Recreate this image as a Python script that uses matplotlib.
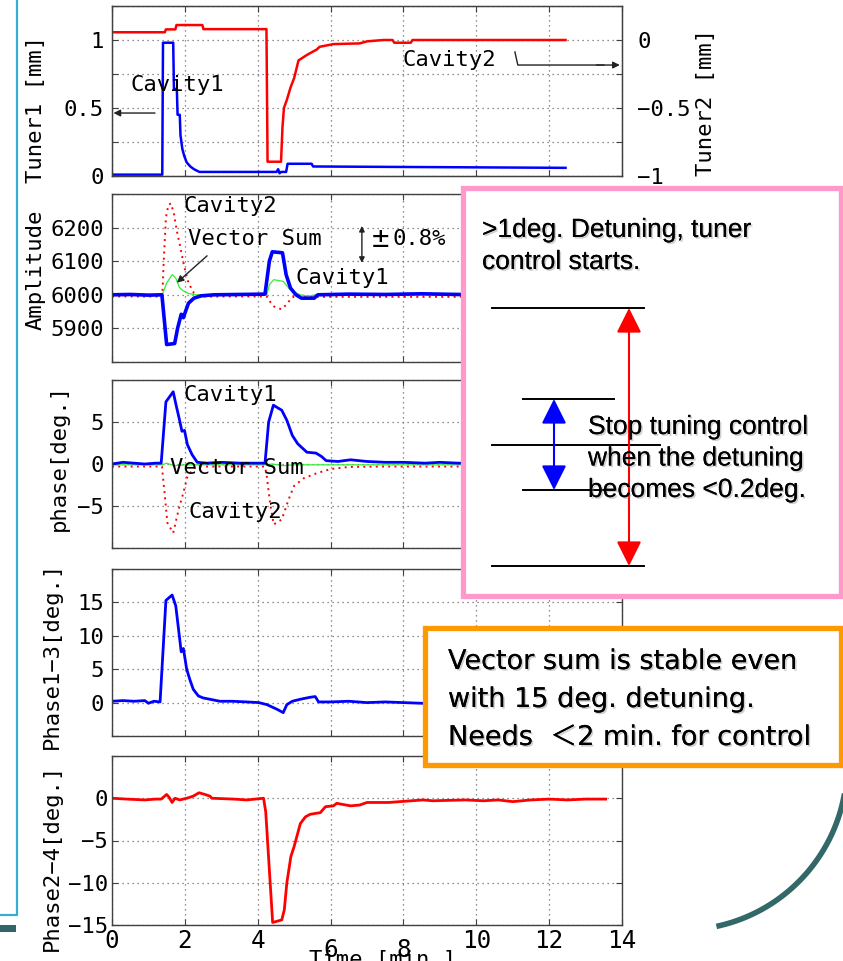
import matplotlib.pyplot as plt
import matplotlib.patheffects as pe
from matplotlib.lines import Line2D
from matplotlib.patches import Rectangle, FancyArrowPatch
import numpy as np

W, H = 843, 961

# Tuner positions [mm]
tuner1_t = [0, 1.38, 1.40, 1.68, 1.70, 1.78, 1.80, 1.86, 1.88, 1.93, 1.98, 2.05, 2.15, 2.25, 2.4,
            4.52, 4.56, 4.60, 4.64, 4.78, 4.82, 5.48, 5.52, 12.45]
tuner1 = [0.01, 0.01, 0.98, 0.98, 0.64, 0.64, 0.45, 0.45, 0.30, 0.20, 0.15, 0.10, 0.07, 0.05, 0.03,
          0.03, 0.05, 0.02, 0.03, 0.03, 0.09, 0.09, 0.07, 0.06]
tuner2_t = [0, 1.45, 1.48, 1.74, 1.77, 2.48, 2.51, 4.24, 4.27, 4.64, 4.68, 4.72, 4.8, 4.9, 5.0,
            5.12, 5.35, 5.62, 5.7, 6.08, 6.8, 7.0, 7.45, 7.7, 7.75, 8.2, 8.25, 12.45]
tuner2 = [0.057, 0.057, 0.078, 0.078, 0.11, 0.11, 0.08, 0.08, -0.895, -0.895, -0.64, -0.5, -0.44,
          -0.35, -0.28, -0.15, -0.11, -0.07, -0.05, -0.03, -0.025, -0.01, 0.0, 0.0, -0.02, -0.02,
          0.0, 0.0]

# Amplitude
amp1_t = [0, 0.5, 1.0, 1.37, 1.5, 1.72, 1.8, 1.9, 1.96, 2.0, 2.1, 2.25, 2.45, 2.8, 4.2, 4.32, 4.4,
          4.68, 4.78, 4.9, 5.05, 5.2, 5.55, 5.65, 6.5, 7.5, 8.5, 9.5, 10.5, 11.5, 12.45]
amp1 = [6000, 6001, 5999, 6000, 5852, 5855, 5900, 5942, 5932, 5945, 5975, 5990, 5997, 6000, 6002,
        6100, 6128, 6125, 6060, 6020, 6000, 5990, 5990, 6000, 6002, 6001, 6003, 6001, 6000, 6002, 6000]
amp2_t = [0, 1.38, 1.42, 1.48, 1.55, 1.62, 1.7, 1.78, 1.87, 1.98, 2.1, 2.25, 2.45, 4.25, 4.35,
          4.45, 4.65, 4.8, 4.92, 5.05, 5.3, 12.45]
amp2 = [5995, 5995, 6100, 6230, 6268, 6272, 6240, 6190, 6145, 6085, 6035, 6005, 5995, 5995, 5978,
        5965, 5957, 5972, 5990, 5998, 5994, 5994]
ampvs_t = [0, 1.38, 1.5, 1.65, 1.75, 1.85, 1.95, 2.1, 2.3, 4.25, 4.32, 4.44, 4.7, 4.85, 5.0, 5.17,
           5.4, 5.6, 12.45]
ampvs = [6000, 6000, 6035, 6060, 6050, 6022, 6012, 6004, 6000, 6000, 6030, 6045, 6040, 6020, 6008,
         6000, 5996, 6000, 6000]

# Cavity phase [deg.]
ph1_t = [0, 0.3, 0.6, 0.9, 1.2, 1.35, 1.48, 1.58, 1.68, 1.76, 1.84, 1.92, 1.99, 2.07, 2.2, 2.34,
         2.6, 3.0, 3.5, 4.2, 4.3, 4.43, 4.66, 4.8, 4.95, 5.1, 5.35, 5.6, 5.75, 5.88, 6.2, 6.55, 7.0,
         7.5, 8.0, 8.6, 9.0, 9.5, 10.5, 11.5, 12.45]
ph1 = [0.0, 0.2, 0.1, 0.0, 0.1, 0.1, 7.4, 8.0, 8.6, 7.0, 5.5, 3.9, 4.0, 2.3, 1.1, 0.2, 0.1, 0.2,
       0.1, 0.1, 5.0, 7.0, 6.4, 5.2, 3.4, 2.4, 1.4, 1.3, 0.9, 0.4, 0.3, 0.5, 0.3, 0.2, 0.2, 0.1,
       0.2, 0.1, 0.1, 0.1, 0.1]
ph2_t = [0, 1.37, 1.46, 1.52, 1.68, 1.83, 1.96, 2.07, 2.25, 2.4, 3.0, 4.2, 4.25, 4.34, 4.44, 4.66,
         4.85, 5.0, 5.26, 5.62, 6.0, 6.5, 7.5, 9.5, 12.45]
ph2 = [-0.3, -0.3, -4.2, -7.0, -8.2, -5.4, -3.4, -1.5, -0.5, -0.3, -0.3, -0.3, -1.5, -4.7, -7.2,
       -6.6, -4.2, -2.6, -1.7, -1.1, -0.6, -0.35, -0.3, -0.3, -0.3]
phvs_t = [0, 1.38, 1.5, 1.7, 2.0, 4.2, 4.4, 4.7, 5.0, 12.45]
phvs = [-0.1, -0.1, 0.1, -0.2, -0.1, -0.1, 0.0, -0.2, -0.1, -0.1]

# Phase difference 1-3 and 2-4 [deg.]
p13_t = [0, 0.3, 0.6, 0.9, 1.0, 1.15, 1.32, 1.48, 1.65, 1.75, 1.9, 1.96, 2.05, 2.14, 2.23, 2.37,
         2.5, 2.78, 2.96, 3.3, 3.7, 4.03, 4.25, 4.53, 4.7, 4.8, 4.95, 5.17, 5.44, 5.58, 5.67, 6.0,
         6.5, 7.0, 7.5, 8.0, 8.5, 9.1, 9.5, 10.5, 11.5, 12.45]
p13 = [0.2, 0.3, 0.2, 0.3, -0.1, 0.2, 0.1, 15.3, 16.1, 14.5, 7.6, 8.1, 5.0, 3.4, 2.0, 1.0, 0.7,
       0.4, 0.2, 0.2, 0.1, 0.0, -0.3, -1.0, -1.5, -0.3, 0.2, 0.5, 0.8, 0.9, 0.1, 0.1, 0.2, 0.0,
       0.1, 0.0, -0.1, -0.3, -0.2, -0.1, -0.1, 0.0]
p24_t = [0, 0.4, 0.9, 1.2, 1.35, 1.5, 1.57, 1.65, 1.73, 1.86, 2.05, 2.23, 2.39, 2.55, 2.69, 2.74,
         3.34, 3.7, 4.16, 4.22, 4.41, 4.66, 4.73, 4.8, 4.91, 5.0, 5.17, 5.31, 5.44, 5.72, 5.86,
         6.08, 6.17, 6.55, 6.8, 7.0, 7.6, 7.9, 8.54, 8.8, 9.7, 10.2, 10.6, 11.0, 11.5, 12.0, 12.5,
         13.0, 13.55]
p24 = [0.0, -0.1, -0.2, -0.1, -0.1, 0.45, 0.1, -0.5, 0.0, -0.2, 0.0, 0.25, 0.65, 0.45, 0.25, 0.0,
       -0.1, -0.2, 0.0, -1.6, -14.7, -14.4, -13.2, -10.0, -6.9, -5.7, -3.0, -2.2, -1.9, -1.7,
       -1.0, -0.9, -0.6, -0.9, -0.8, -0.5, -0.5, -0.4, -0.2, -0.3, -0.2, -0.3, -0.2, -0.4, -0.2,
       -0.1, -0.2, -0.1, -0.1]

time_ticks = [0, 2, 4, 6, 8, 10, 12, 14]

plt.rcParams['font.family'] = ['DejaVu Sans Mono']
plt.rcParams['font.size'] = 16

fig = plt.figure(figsize=(W / 100, H / 100), dpi=100)


def box(top, bottom, left=112, right=622):
    return [left / W, 1 - bottom / H, (right - left) / W, (bottom - top) / H]


def px(x, y):
    return x / W, 1 - y / H


def style(ax, ylim, yticks, ylabels):
    ax.set_xlim(0, 14)
    ax.set_ylim(*ylim)
    ax.set_xticks(time_ticks)
    ax.set_yticks(yticks)
    ax.set_yticklabels(ylabels)
    ax.grid(True, color='#6a6a6a', linestyle=(0, (1, 3)), linewidth=0.9)
    ax.tick_params(direction='in', top=True, right=True, length=4, width=0.8,
                   pad=6, color='#404040', labelbottom=False)
    for s in ax.spines.values():
        s.set_color('#404040')
        s.set_linewidth(1)


BLUE, RED, GREEN = '#0000ff', '#ff0000', '#33ee33'
DOT = (0, (1, 2.2))
ARROW = dict(arrowstyle='-|>', color='#222222', lw=1, mutation_scale=10,
             shrinkA=0, shrinkB=0)

# --- Tuner ---
ax1 = fig.add_axes(box(6, 176))
style(ax1, (0, 1.25), [0, 0.25, 0.5, 0.75, 1, 1.25], ['0', '', '0.5', '', '1', ''])
ax1.tick_params(right=False)
ax1.plot(tuner1_t, tuner1, color=BLUE, lw=1.8)
ax1.set_ylabel('Tuner1 [mm]')
ax1.yaxis.set_label_coords(-0.13, 0.39)
ax1r = ax1.twinx()
ax1r.set_ylim(-1, 0.25)
ax1r.set_yticks([-1, -0.75, -0.5, -0.25, 0, 0.25])
ax1r.set_yticklabels(['\u22121', '', '\u22120.5', '', '0', ''])
ax1r.tick_params(direction='in', length=4, width=0.8, pad=11, color='#404040')
for s in ax1r.spines.values():
    s.set_color('#404040')
ax1r.plot(tuner2_t, tuner2, color=RED, lw=1.8)
ax1r.set_ylabel('Tuner2 [mm]')
ax1r.yaxis.set_label_coords(1.145, 0.43)
ax1.text(0.5, 0.67, 'Cavity1', va='center', ha='left')
ax1.annotate('', xy=(0.04, 0.463), xytext=(1.18, 0.463), arrowprops=ARROW)
ax1.text(7.97, 0.85, 'Cavity2', va='center', ha='left')
ax1.plot([11.06, 11.14, 13.5], [0.912, 0.816, 0.816], color='#222222', lw=1)
ax1.annotate('', xy=(13.94, 0.816), xytext=(13.3, 0.816), arrowprops=ARROW)

# --- Amplitude ---
ax2 = fig.add_axes(box(194, 362))
style(ax2, (5800, 6300), [5800, 5900, 6000, 6100, 6200, 6300],
      ['', '5900', '6000', '6100', '6200', ''])
ax2.plot(amp2_t, amp2, color=RED, lw=1.4, linestyle=DOT)
ax2.plot(ampvs_t, ampvs, color=GREEN, lw=0.9)
ax2.plot(amp1_t, amp1, color=BLUE, lw=2.6)
ax2.set_ylabel('Amplitude')
ax2.yaxis.set_label_coords(-0.13, 0.55)
ax2.text(1.95, 6265, 'Cavity2', va='center', ha='left')
ax2.text(2.09, 6167, 'Vector Sum', va='center', ha='left')
ax2.annotate('', xy=(1.78, 6036), xytext=(2.61, 6116), arrowprops=ARROW)
ax2.text(5.03, 6051, 'Cavity1', va='center', ha='left')
ax2.annotate('', xy=(6.86, 6095), xytext=(6.86, 6205),
             arrowprops=dict(arrowstyle='<|-|>', color='#222222', lw=1,
                             mutation_scale=8, shrinkA=0, shrinkB=0))
ax2.text(7.12, 6165, '\u00b1', va='center', ha='left', fontsize=21)
ax2.text(7.71, 6167, '0.8%', va='center', ha='left')

# --- Phase ---
ax3 = fig.add_axes(box(380, 548))
style(ax3, (-10, 10), [-10, -5, 0, 5, 10], ['', '\u22125', '0', '5', ''])
ax3.plot(ph2_t, ph2, color=RED, lw=1.4, linestyle=DOT)
ax3.plot(phvs_t, phvs, color=GREEN, lw=0.9)
ax3.plot(ph1_t, ph1, color=BLUE, lw=2.0)
ax3.set_ylabel('phase[deg.]')
ax3.yaxis.set_label_coords(-0.085, 0.54)
ax3.text(1.95, 8.2, 'Cavity1', va='center', ha='left')
ax3.text(1.6, -0.5, 'Vector Sum', va='center', ha='left')
ax3.text(2.09, -5.7, 'Cavity2', va='center', ha='left')

# --- Phase1-3 ---
ax4 = fig.add_axes(box(569, 736))
style(ax4, (-5, 20), [-5, 0, 5, 10, 15, 20], ['', '0', '5', '10', '15', ''])
ax4.plot(p13_t, p13, color=BLUE, lw=2.0)
ax4.set_ylabel('Phase1\u22123[deg.]')
ax4.yaxis.set_label_coords(-0.098, 0.485)

# --- Phase2-4 ---
ax5 = fig.add_axes(box(756, 925))
style(ax5, (-15, 5), [-15, -10, -5, 0, 5], ['\u221215', '\u221210', '\u22125', '0', ''])
ax5.plot(p24_t, p24, color=RED, lw=2.0)
ax5.set_ylabel('Phase2\u22124[deg.]')
ax5.yaxis.set_label_coords(-0.098, 0.40)
ax5.tick_params(labelbottom=True, pad=3)
ax5.set_xticklabels([str(t) for t in time_ticks], fontsize=17.5)
for tk, t in zip(ax5.xaxis.get_major_ticks(), time_ticks):
    if t in (6, 8):
        tk.set_pad(9.5)
ax5.set_xlabel('Time [min.]')
ax5.xaxis.set_label_coords(0.531, -0.145)

# --- decorations around the plots ---
fig.add_artist(Line2D([0, 17 / W, 17 / W], [1 - 915 / H, 1 - 915 / H, 1.0],
                      transform=fig.transFigure, color='#35aed0', lw=1.6))
fig.add_artist(Rectangle(px(0, 932), 16 / W, 7 / H, transform=fig.transFigure,
                         color='#336666', lw=0))
ang = np.linspace(-77, 0, 80) * np.pi / 180
cx, cy, r = 682, H - 765, 165
fig.add_artist(Line2D((cx + r * np.cos(ang)) / W, (cy + r * np.sin(ang)) / H,
                      transform=fig.transFigure, color='#326868', lw=4))

shadow = [pe.withSimplePatchShadow(offset=(1.2, -1.2), shadow_rgbFace='#888888', alpha=0.4),
          pe.Normal()]

# pink note
fig.add_artist(Rectangle(px(463.5, 595.5), 377 / W, 407.5 / H, transform=fig.transFigure,
                         facecolor='white', edgecolor='#ff99cc', lw=3.8, zorder=5))
for i, line in enumerate(['>1deg. Detuning, tuner', 'control starts.']):
    fig.text(*px(482, 230 + 32 * i), line, family='Liberation Sans', fontsize=19,
             va='center', ha='left', zorder=7, path_effects=shadow)
for x0, x1, y in [(492, 644, 308), (492, 644, 566), (523, 614, 399), (492, 660, 445),
                  (523, 614, 490)]:
    fig.add_artist(Line2D([x0 / W, x1 / W], [1 - y / H, 1 - y / H], transform=fig.transFigure,
                          color='black', lw=1.4, zorder=6))
for x, y0, y1, c in [(629, 308, 566, RED), (554, 399, 490, BLUE)]:
    fig.add_artist(FancyArrowPatch(px(x, y0), px(x, y1), transform=fig.transFigure,
                                   arrowstyle='<|-|>,head_length=0.9,head_width=0.45',
                                   mutation_scale=17, color=c, lw=1.5, shrinkA=0,
                                   shrinkB=0, zorder=6))
for i, line in enumerate(['Stop tuning control', 'when the detuning', 'becomes <0.2deg.']):
    fig.text(*px(588, 427 + 31.5 * i), line, family='Liberation Sans', fontsize=19,
             va='center', ha='left', zorder=7, path_effects=shadow)

# orange note
fig.add_artist(Rectangle(px(425, 765), 415.5 / W, 137.5 / H, transform=fig.transFigure,
                         facecolor='white', edgecolor='#ff9900', lw=3.8, zorder=5))
for i, line in enumerate(['Vector sum is stable even', 'with 15 deg. detuning.',
                          'Needs  \uff1c2 min. for control']):
    fig.text(*px(448, 662 + 38 * i), line, family=['DejaVu Sans', 'Noto Sans CJK JP'],
             fontsize=19.5, va='center', ha='left', zorder=7, path_effects=shadow)

fig.savefig('out.png', dpi=100)
